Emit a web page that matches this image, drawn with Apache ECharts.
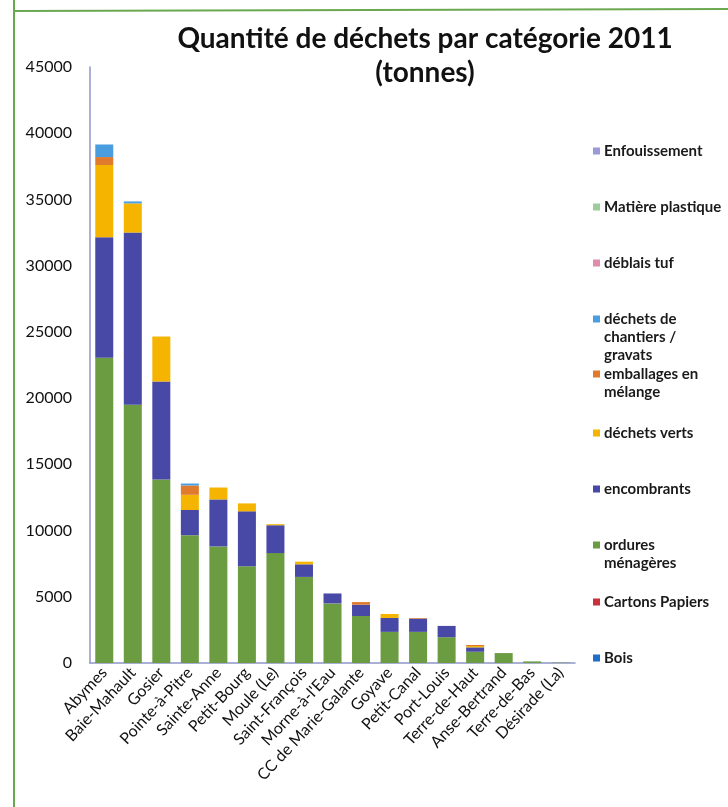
<!DOCTYPE html>
<html>
<head>
<meta charset="utf-8">
<script src="https://cdn.jsdelivr.net/npm/echarts@6/dist/echarts.min.js"></script>
<style>
  html, body { margin: 0; padding: 0; background: #ffffff; }
  #chart { width: 728px; height: 807px; }
</style>
</head>
<body>
<div id="chart"></div>
<script>
// Communes (x axis)
const communes = ['Abymes', 'Baie-Mahault', 'Gosier', 'Pointe-à-Pitre', 'Sainte-Anne', 'Petit-Bourg',
  'Moule (Le)', 'Saint-François', "Morne-à-l'Eau", 'CC de Marie-Galante', 'Goyave', 'Petit-Canal',
  'Port-Louis', 'Terre-de-Haut', 'Anse-Bertrand', 'Terre-de-Bas', 'Désirade (La)'];

// Tonnages per category (stacked from bottom to top)
const bois              = [0, 0, 0, 0, 0, 0, 0, 0, 0, 0, 0, 0, 0, 0, 0, 0, 0];
const cartonsPapiers    = [0, 0, 0, 0, 0, 0, 0, 0, 0, 0, 0, 0, 0, 0, 0, 0, 0];
const orduresMenageres  = [23050, 19500, 13850, 9650, 8800, 7300, 8300, 6500, 4500, 3550, 2350, 2350, 1950, 850, 750, 120, 30];
const encombrants       = [9100, 13000, 7400, 1900, 3550, 4150, 2100, 950, 750, 850, 1050, 1000, 850, 330, 0, 0, 0];
const dechetsVerts      = [5450, 2200, 3400, 1150, 900, 600, 80, 200, 0, 0, 300, 0, 0, 100, 0, 0, 0];
const emballages        = [600, 0, 0, 700, 0, 0, 0, 0, 0, 200, 0, 50, 0, 80, 0, 0, 0];
const chantiersGravats  = [950, 150, 0, 150, 0, 0, 0, 0, 0, 0, 0, 0, 0, 0, 0, 0, 0];
const deblaisTuf        = [0, 0, 0, 0, 0, 0, 0, 0, 0, 0, 0, 0, 0, 0, 0, 0, 0];
const matierePlastique  = [0, 0, 0, 0, 0, 0, 0, 0, 0, 0, 0, 0, 0, 0, 0, 0, 0];
const enfouissement     = [0, 0, 0, 0, 0, 0, 0, 0, 0, 0, 0, 0, 0, 0, 0, 0, 0];

// Y axis ticks
const yMin = 0, yMax = 45000, yStep = 5000;

// Stack order bottom -> top; y = vertical position of the legend entry's first line
const layers = [
  { name: 'Bois',                 data: bois,             color: '#1f6fc8', lines: 1, y: 658 },
  { name: 'Cartons Papiers',      data: cartonsPapiers,   color: '#c8303c', lines: 1, y: 602 },
  { name: 'ordures\nménagères',   data: orduresMenageres, color: '#6b9c42', lines: 2, y: 545 },
  { name: 'encombrants',          data: encombrants,      color: '#4848a6', lines: 1, y: 489 },
  { name: 'déchets verts',        data: dechetsVerts,     color: '#f4b400', lines: 1, y: 433 },
  { name: 'emballages en\nmélange', data: emballages,     color: '#e07a2c', lines: 2, y: 374 },
  { name: 'déchets de\nchantiers /\ngravats', data: chantiersGravats, color: '#4a9ee0', lines: 3, y: 319 },
  { name: 'déblais tuf',          data: deblaisTuf,       color: '#e08cac', lines: 1, y: 263 },
  { name: 'Matière plastique',    data: matierePlastique, color: '#9ccc9c', lines: 1, y: 207 },
  { name: 'Enfouissement',        data: enfouissement,    color: '#9a9ad8', lines: 1, y: 151 }
];

// One legend block per entry; the swatch sits beside the first text line
const LH = 18;
const legends = layers.map(l => {
  const h = l.lines * LH;
  const icon = 'path://M0,0L0.01,0M0,5.5H7V12.5H0ZM0,' + h + 'L0.01,' + h;
  return {
    data: [{ name: l.name, icon: icon }],
    orient: 'vertical',
    left: 593,
    top: l.y - LH / 2,
    padding: 0,
    itemWidth: 7,
    itemHeight: h,
    itemGap: 0,
    selectedMode: false,
    textStyle: {
      fontFamily: 'Lato',
      fontWeight: 'bold',
      fontSize: 15,
      color: '#1a1a1a',
      lineHeight: LH,
      padding: [0, 0, 0, -1]
    }
  };
});

const chart = echarts.init(document.getElementById('chart'), null, { renderer: 'canvas' });
chart.setOption({
  backgroundColor: '#ffffff',
  animation: false,
  title: {
    text: 'Quantité de déchets par catégorie 2011\n(tonnes)',
    left: 420,
    top: 17,
    textAlign: 'center',
    textStyle: {
      fontFamily: 'Lato',
      fontWeight: 'bold',
      fontSize: 28,
      lineHeight: 34,
      color: '#111111'
    }
  },
  legend: legends,
  graphic: [
    { type: 'line', shape: { x1: 14, y1: 0, x2: 14, y2: 807 }, style: { stroke: '#6aa84f', lineWidth: 2 } },
    { type: 'line', shape: { x1: 14, y1: 11, x2: 728, y2: 9 }, style: { stroke: '#6aa84f', lineWidth: 2 } }
  ],
  grid: { left: 90, top: 67, width: 485, height: 596, containLabel: false },
  xAxis: {
    type: 'category',
    data: communes,
    axisLine: { show: true, lineStyle: { color: '#8f96c8', width: 1.5 } },
    axisTick: { show: false },
    axisLabel: {
      interval: 0,
      rotate: 47,
      margin: 7,
      fontFamily: 'Lato',
      fontSize: 16,
      color: '#111111'
    }
  },
  yAxis: {
    type: 'value',
    min: yMin,
    max: yMax,
    interval: yStep,
    splitLine: { show: false },
    axisLine: { show: true, lineStyle: { color: '#8f96c8', width: 1.5 } },
    axisTick: { show: false },
    axisLabel: {
      margin: 18,
      fontFamily: 'Lato',
      fontSize: 16,
      color: '#111111',
      formatter: v => String(v)
    }
  },
  series: layers.map(l => ({
    name: l.name,
    type: 'bar',
    stack: 'total',
    data: l.data,
    barWidth: 18,
    itemStyle: { color: l.color },
    emphasis: { disabled: true }
  }))
});
</script>
</body>
</html>
